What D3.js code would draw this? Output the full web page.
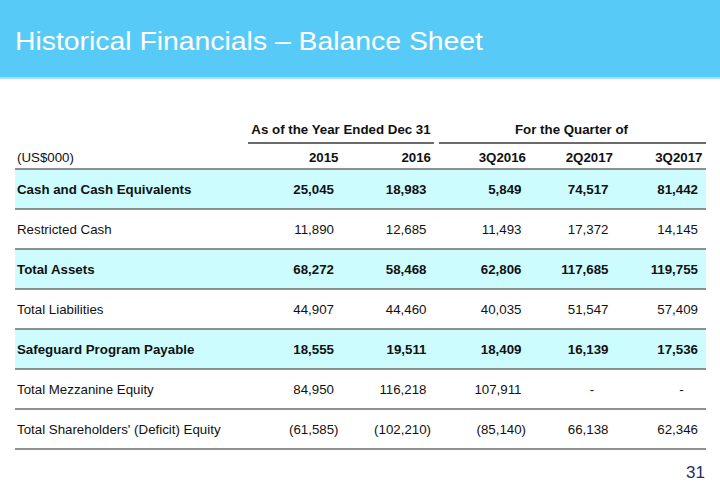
<!DOCTYPE html>
<html><head><meta charset="utf-8">
<script src="https://cdn.jsdelivr.net/npm/d3@7"></script>
<style>
html,body{margin:0;padding:0;background:#fff;}
svg{display:block;font-family:"Liberation Sans",Arial,sans-serif;}
</style></head>
<body>
<svg id="c" width="720" height="498"></svg>
<script>
const title = "Historical Financials \u2013 Balance Sheet";
const unitLabel = "(US$000)";
const groups = [
  {label: "As of the Year Ended Dec 31", cols: ["2015", "2016"]},
  {label: "For the Quarter of", cols: ["3Q2016", "2Q2017", "3Q2017"]}
];
const columns = ["2015", "2016", "3Q2016", "2Q2017", "3Q2017"];
const rowLabels = [
  "Cash and Cash Equivalents",
  "Restricted Cash",
  "Total Assets",
  "Total Liabilities",
  "Safeguard Program Payable",
  "Total Mezzanine Equity",
  "Total Shareholders' (Deficit) Equity"
];
const highlighted = [true, false, true, false, true, false, false];
const cashEq      = [25045, 18983, 5849, 74517, 81442];
const restricted  = [11890, 12685, 11493, 17372, 14145];
const totalAssets = [68272, 58468, 62806, 117685, 119755];
const totalLiab   = [44907, 44460, 40035, 51547, 57409];
const safeguard   = [18555, 19511, 18409, 16139, 17536];
const mezzanine   = [84950, 116218, 107911, null, null];
const shareholders= [-61585, -102210, -85140, 66138, 62346];
const values = [cashEq, restricted, totalAssets, totalLiab, safeguard, mezzanine, shareholders];
const pageNumber = "31";

const svg = d3.select("#c");
const W = 720;

// Header band
svg.append("rect").attr("x",0).attr("y",0).attr("width",W).attr("height",77).attr("fill","#58CAF7");
svg.append("rect").attr("x",0).attr("y",77).attr("width",W).attr("height",2).attr("fill","#A6E2FA");
svg.append("text").attr("x",15).attr("y",49.5).attr("fill","#fff")
  .attr("font-size",26).attr("textLength",468).attr("lengthAdjust","spacingAndGlyphs").text(title);

// Layout scales
const tableLeft = 15, tableRight = 706;
const y = d3.scaleBand().domain(d3.range(rowLabels.length)).range([169, 449]).padding(0);
const colRight = d3.scaleOrdinal().domain(columns).range([338.5, 431, 526, 613, 702.5]);
const fmt = d3.format(",");
const fs = 13.3;
const parenW = 4.5;

// Group headers
const groupSpan = [[248, 434], [439, 706]];
groups.forEach((g, i) => {
  const [a, b] = groupSpan[i];
  svg.append("text").attr("x", (a + b) / 2 - (i === 0 ? 0 : 1)).attr("y", 134)
    .attr("text-anchor","middle").attr("font-weight","bold").attr("font-size",fs)
    .attr("fill","#111").text(g.label);
  svg.append("line").attr("x1",a).attr("x2",b).attr("y1",143).attr("y2",143)
    .attr("stroke","#6b6b6b").attr("stroke-width",2);
});

// Column header row
svg.append("text").attr("x",17).attr("y",162).attr("font-size",fs).attr("fill","#111").text(unitLabel);
svg.selectAll("text.colh").data(columns).join("text").attr("class","colh")
  .attr("x", d => colRight(d)).attr("y",162).attr("text-anchor","end")
  .attr("font-weight","bold").attr("font-size",fs).attr("fill","#111").text(d => d);

// Row backgrounds
svg.selectAll("rect.band").data(rowLabels.map((d,i)=>i).filter(i=>highlighted[i])).join("rect")
  .attr("class","band").attr("x",tableLeft).attr("width",tableRight-tableLeft)
  .attr("y", i => y(i)).attr("height", y.bandwidth()).attr("fill","#CDFCFF");

// Rules
svg.selectAll("line.rule").data(d3.range(rowLabels.length + 1)).join("line").attr("class","rule")
  .attr("x1",tableLeft).attr("x2",tableRight)
  .attr("y1", i => (i < rowLabels.length ? y(i) : y(i-1) + y.bandwidth()))
  .attr("y2", i => (i < rowLabels.length ? y(i) : y(i-1) + y.bandwidth()))
  .attr("stroke","#6b6b6b").attr("stroke-width",1.6);

// Row labels and values
rowLabels.forEach((lab, r) => {
  const cy = y(r) + y.bandwidth() / 2 + 4.6;
  const bold = highlighted[r] ? "bold" : "normal";
  svg.append("text").attr("x",17).attr("y",cy).attr("font-size",fs).attr("font-weight",bold)
    .attr("fill","#111").text(lab);
  columns.forEach((c, j) => {
    const v = values[r][j];
    const t = svg.append("text").attr("y",cy).attr("font-size",fs).attr("font-weight",bold).attr("fill","#111");
    if (v === null) {
      t.attr("x", colRight(c) - 21).attr("text-anchor","middle").text("-");
    } else if (v < 0) {
      t.attr("x", colRight(c)).attr("text-anchor","end").text("(" + fmt(-v) + ")");
    } else {
      t.attr("x", colRight(c) - parenW).attr("text-anchor","end").text(fmt(v));
    }
  });
});

// Page number
svg.append("text").attr("x",705).attr("y",478).attr("text-anchor","end")
  .attr("font-size",17).attr("fill","#1F2F6B").text(pageNumber);
</script>
</body></html>
